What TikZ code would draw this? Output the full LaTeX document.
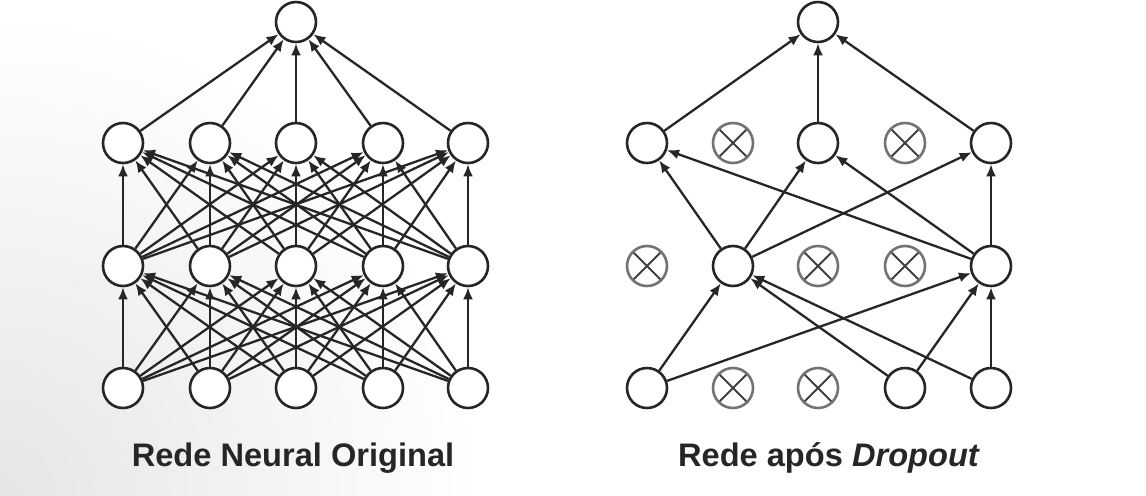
\documentclass[tikz,border=0pt]{standalone}
\usepackage{fontspec}
\setmainfont{Liberation Sans}
\usetikzlibrary{arrows.meta}

\tikzset{
  neuron/.style={circle, minimum size=20pt, inner sep=0pt, fill=white, line width=1.3pt, draw=black!85},
  dropped/.style={neuron, draw=black!55, path picture={
      \draw[line width=1pt, color=black!75]
        (path picture bounding box.north west) -- (path picture bounding box.south east)
        (path picture bounding box.south west) -- (path picture bounding box.north east);}},
  link/.style={line width=1.15pt, -{Latex[length=6pt,width=5pt]}, color=black!85},
  caption/.style={font=\fontsize{16.3}{19}\selectfont\bfseries, text=black!85}
}

\begin{document}
\begin{tikzpicture}[x=0.5pt, y=-0.5pt]
% background
\useasboundingbox (0,0) rectangle (1146,495);
\fill[white] (0,0) rectangle (1146,495);
\shade[inner color=black!10, outer color=white] (0,495) circle (480);

% original network
\node (lo) [neuron] at (296,22) {};
\foreach \i/\x in {1/123, 2/210, 3/296, 4/383, 5/468} {
  \node (lb\i) [neuron] at (\x,143) {};
  \node (la\i) [neuron] at (\x,266) {};
  \node (li\i) [neuron] at (\x,388) {};
}
\foreach \s in {1,...,5} {
  \draw [link] (lb\s) -- (lo);
  \foreach \t in {1,...,5} {
    \draw [link] (li\s) -- (la\t);
    \draw [link] (la\s) -- (lb\t);
  }
}
\node (lcap) [caption] at (293,458) {Rede Neural Original};

% network after dropout
\node (ro) [neuron] at (818,22) {};
\node (rb1) [neuron] at (647,143) {};
\node (rb2) [dropped] at (733,143) {};
\node (rb3) [neuron] at (818,143) {};
\node (rb4) [dropped] at (905,143) {};
\node (rb5) [neuron] at (991,143) {};
\node (ra1) [dropped] at (647,266) {};
\node (ra2) [neuron] at (733,266) {};
\node (ra3) [dropped] at (818,266) {};
\node (ra4) [dropped] at (905,266) {};
\node (ra5) [neuron] at (991,266) {};
\node (ri1) [neuron] at (647,388) {};
\node (ri2) [dropped] at (733,388) {};
\node (ri3) [dropped] at (818,388) {};
\node (ri4) [neuron] at (905,388) {};
\node (ri5) [neuron] at (991,388) {};
\foreach \s in {1,4,5} {
  \draw [link] (ri\s) -- (ra2);
  \draw [link] (ri\s) -- (ra5);
}
\foreach \s in {2,5} {
  \draw [link] (ra\s) -- (rb1);
  \draw [link] (ra\s) -- (rb3);
  \draw [link] (ra\s) -- (rb5);
}
\foreach \s in {1,3,5}
  \draw [link] (rb\s) -- (ro);
\node (rcap) [caption] at (829,458) {Rede após \textit{Dropout}};
\end{tikzpicture}
\end{document}
